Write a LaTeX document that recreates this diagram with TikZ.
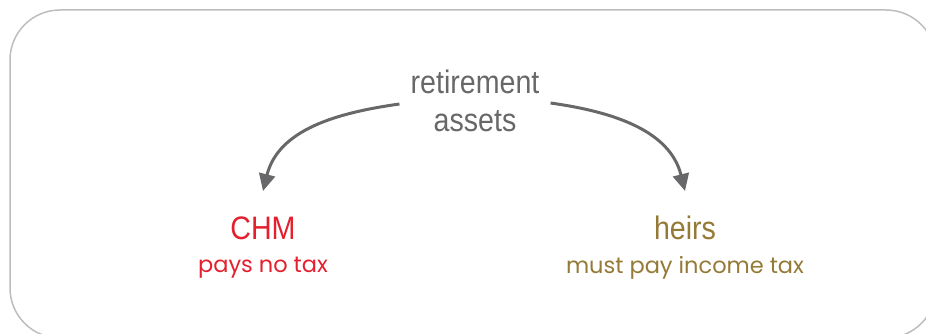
\documentclass[tikz,border=0pt]{standalone}
\usepackage{fontspec}
\setmainfont{Liberation Sans}
\newfontfamily\titlefont[FakeStretch=0.88]{Liberation Sans}
\newfontfamily\subfont{Poppins}
\usepackage{tikz}
\usetikzlibrary{arrows.meta,positioning}

\definecolor{chmred}{HTML}{E5202E}
\definecolor{heirgold}{HTML}{957A37}
\definecolor{arrowgray}{HTML}{68686A}
\definecolor{framegray}{HTML}{BDBDBD}

\begin{document}
\begin{tikzpicture}[x=1pt,y=1pt,
                    main node/.style={align=center,font=\titlefont\fontsize{32.5}{38}\selectfont,inner sep=0pt},
                    sub node/.style={font=\subfont\fontsize{22.5}{26}\selectfont,inner sep=0pt},
                    flow/.style={draw=arrowgray,line width=3pt,-{Triangle[length=17pt,width=16pt]}}]
  \useasboundingbox (0,0) rectangle (926,333);
  \draw[framegray,line width=1.5pt,rounded corners=50pt] (10,323) rectangle (936,-5);

  %source%
  \node[main node,text=arrowgray] (ret) at (475,232) {retirement\\assets};
  %targets%
  \node[main node,text=chmred] (chm) at (263,105) {CHM};
  \node[sub node,text=chmred] (chmsub) at (263,65) {pays no tax};
  \node[main node,text=heirgold] (heirs) at (685,105) {heirs};
  \node[sub node,text=heirgold] (heirsub) at (685,65) {must pay income tax};

  \draw[flow] ([xshift=-11pt,yshift=-3pt]ret.west) to[out=188,in=76] ([yshift=37pt]chm.center);
  \draw[flow] ([xshift=11pt,yshift=-2pt]ret.east) to[out=-8,in=104] ([yshift=37pt]heirs.center);
\end{tikzpicture}
\end{document}
